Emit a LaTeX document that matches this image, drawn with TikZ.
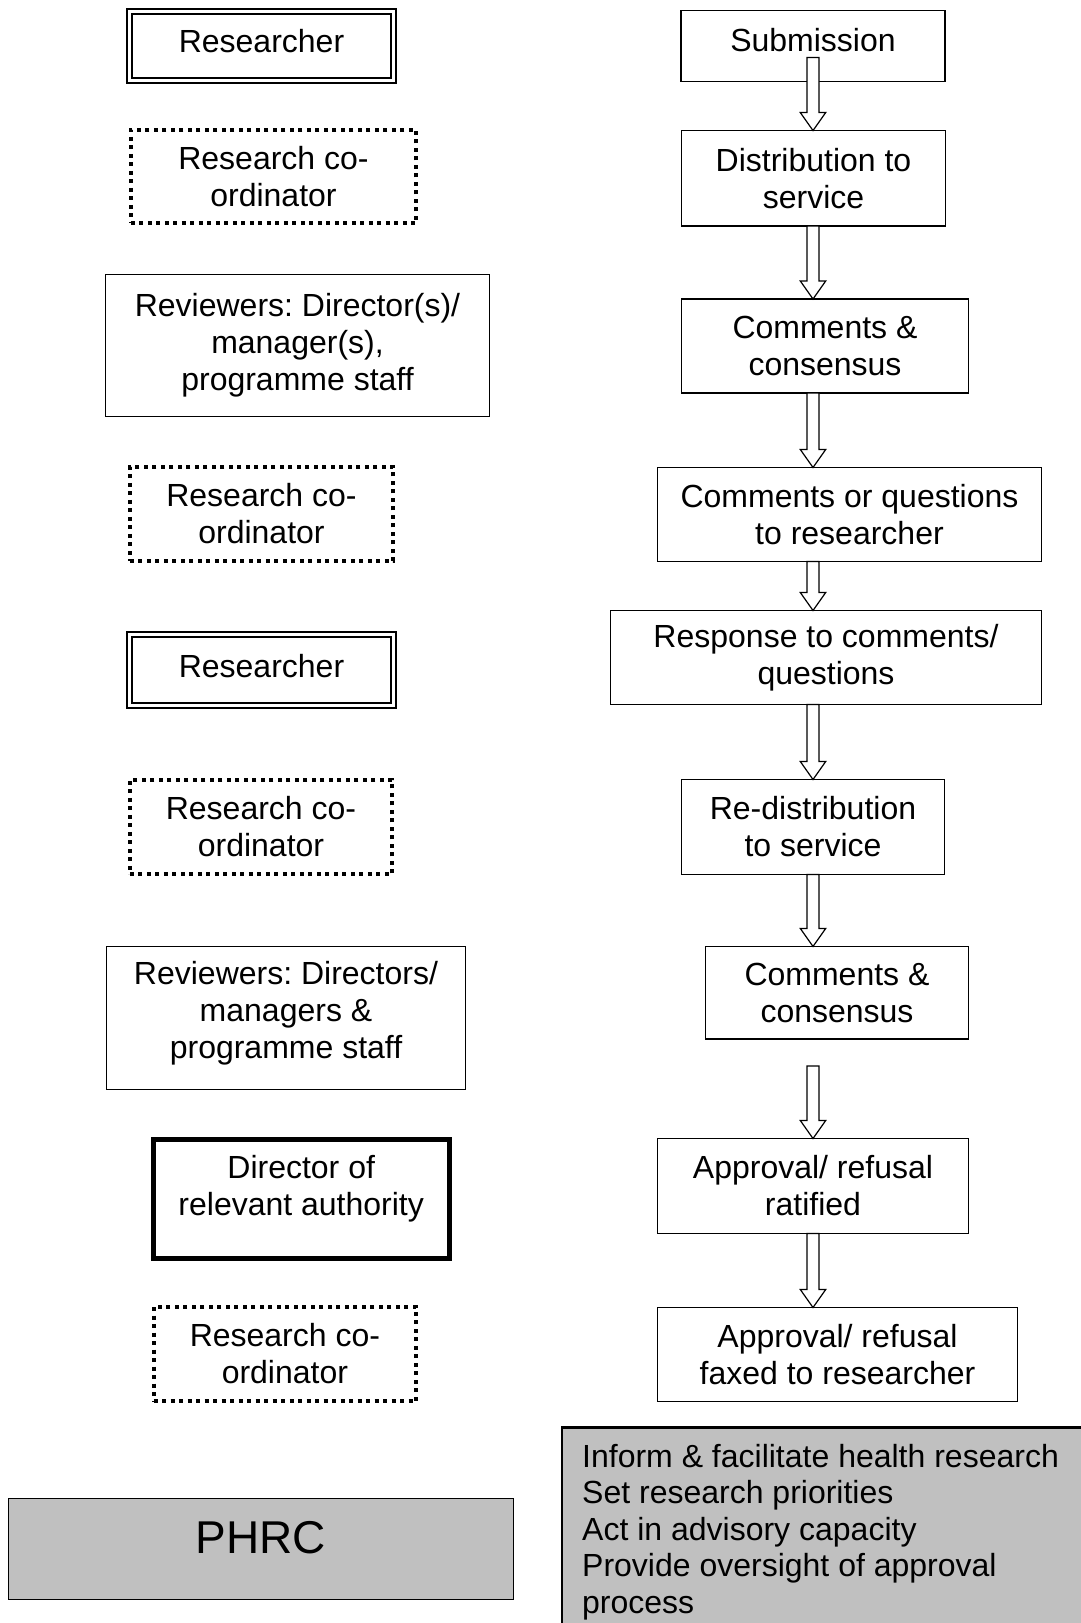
\documentclass[tikz,border=0pt]{standalone}
\usepackage{fontspec}
\setmainfont{Liberation Sans}
\usetikzlibrary{calc}
\definecolor{boxgray}{RGB}{192,192,192}
\tikzset{
 basebox/.style={rectangle, inner sep=0pt, outer sep=0pt, align=center, font=\fontsize{32}{37}\selectfont\frenchspacing},
 plainbox/.style={basebox, draw, line width=1.3pt},
 dblbox/.style={basebox, draw, double, double distance=3.6pt, line width=1.8pt},
 dotbox/.style={basebox, draw, line width=4pt, dash pattern=on 4pt off 4.5pt},
 heavybox/.style={basebox, draw, line width=5pt},
 graybox/.style={basebox, draw, fill=boxgray, line width=1.5pt},
 arrowbody/.style={draw, fill=white, line width=1.2pt, line join=miter},
}
\newcommand\blockarrow[2]{\draw[arrowbody] let \p1=(#1), \p2=(#2) in (\x1-6pt,\y1) -- (\x1-6pt,\y2+18pt) -- (\x1-12.7pt,\y2+18pt) -- (\x1,\y2) -- (\x1+12.7pt,\y2+18pt) -- (\x1+6pt,\y2+18pt) -- (\x1+6pt,\y1) -- cycle;}
\newcommand\liftlines[2]{\raisebox{#1}[\height][\depth]{\begin{tabular}{@{}c@{}}#2\end{tabular}}}
\begin{document}
\begin{tikzpicture}[x=1pt,y=-1pt]
\useasboundingbox (0,0) rectangle (1081,1623);
\clip (0,0) rectangle (1081,1623);
% left column
\node[dblbox, minimum width=263.8pt, minimum height=68.8pt, text depth=10pt] (res1) at (261.5,46) {Researcher};
\node[dotbox, minimum width=285.5pt, minimum height=93.5pt] (rc1) at (273.5,176.5) {Research co-\\ordinator};
\node[plainbox, minimum width=384pt, minimum height=142pt] (rev1) at (297.5,345.5) {Reviewers: Director(s)/\\manager(s),\\programme staff};
\node[dotbox, minimum width=263.5pt, minimum height=94.5pt] (rc2) at (261.5,514) {Research co-\\ordinator};
\node[dblbox, minimum width=263.8pt, minimum height=70.8pt, text depth=8pt] (res2) at (261.5,670) {Researcher};
\node[dotbox, minimum width=262.5pt, minimum height=94.5pt] (rc3) at (261,827) {Research co-\\ordinator};
\node[plainbox, minimum width=359pt, minimum height=143pt] (rev2) at (286,1018) {\liftlines{4pt}{Reviewers: Directors/\\managers \&\\programme staff}};
\node[heavybox, minimum width=296pt, minimum height=119pt] (dir) at (301.2,1198.7) {\liftlines{9pt}{Director of\\relevant authority}};
\node[dotbox, minimum width=262.8pt, minimum height=94.5pt] (rc4) at (284.9,1354) {Research co-\\ordinator};
\node[graybox, minimum width=505pt, minimum height=101pt, font=\fontsize{46}{52}\selectfont, text depth=24pt] (phrc) at (261,1549) {PHRC};
% right column
\node[plainbox, minimum width=264pt, minimum height=71pt, text depth=12pt] (sub) at (813,46) {Submission};
\node[plainbox, minimum width=264pt, minimum height=95.5pt] (dist) at (813.5,178.3) {Distribution to\\service};
\node[plainbox, minimum width=287pt, minimum height=94pt] (cc1) at (825,346) {Comments \&\\consensus};
\node[plainbox, minimum width=384pt, minimum height=94pt] (cq) at (849.5,514.5) {Comments or questions\\to researcher};
\node[plainbox, minimum width=431pt, minimum height=94pt] (resp) at (826,657.5) {Response to comments/\\questions};
\node[plainbox, minimum width=263pt, minimum height=95pt] (redist) at (813,827) {Re-distribution\\to service};
\node[plainbox, minimum width=263pt, minimum height=92.5pt] (cc2) at (837,992.7) {Comments \&\\consensus};
\node[plainbox, minimum width=311pt, minimum height=95pt] (appr) at (813,1186) {Approval/ refusal\\ratified};
\node[plainbox, minimum width=360pt, minimum height=94pt] (fax) at (837.5,1354.5) {Approval/ refusal\\faxed to researcher};
% info box
\node[graybox, anchor=north west, minimum width=540pt, minimum height=220pt] (info) at (562,1427) {};
\draw[line width=3pt] (info.north west) -- (info.north east);
\node[anchor=north west, inner sep=0pt, align=left, font=\fontsize{32}{36.5}\selectfont] (infotext) at (582,1443.6) {Inform \& facilitate health research\\Set research priorities\\Act in advisory capacity\\Provide oversight of approval\\process};
% arrows
\coordinate (ax) at (813,0);
\coordinate (a1) at ($(sub.south -| ax)+(0,-24)$);
\coordinate (a7) at ($(cc2.south -| ax)+(0,27)$);
\blockarrow{a1}{dist.north -| ax}
\blockarrow{dist.south -| ax}{cc1.north -| ax}
\blockarrow{cc1.south -| ax}{cq.north -| ax}
\blockarrow{cq.south -| ax}{resp.north -| ax}
\blockarrow{resp.south -| ax}{redist.north -| ax}
\blockarrow{redist.south -| ax}{cc2.north -| ax}
\blockarrow{a7}{appr.north -| ax}
\blockarrow{appr.south -| ax}{fax.north -| ax}
\end{tikzpicture}
\end{document}
